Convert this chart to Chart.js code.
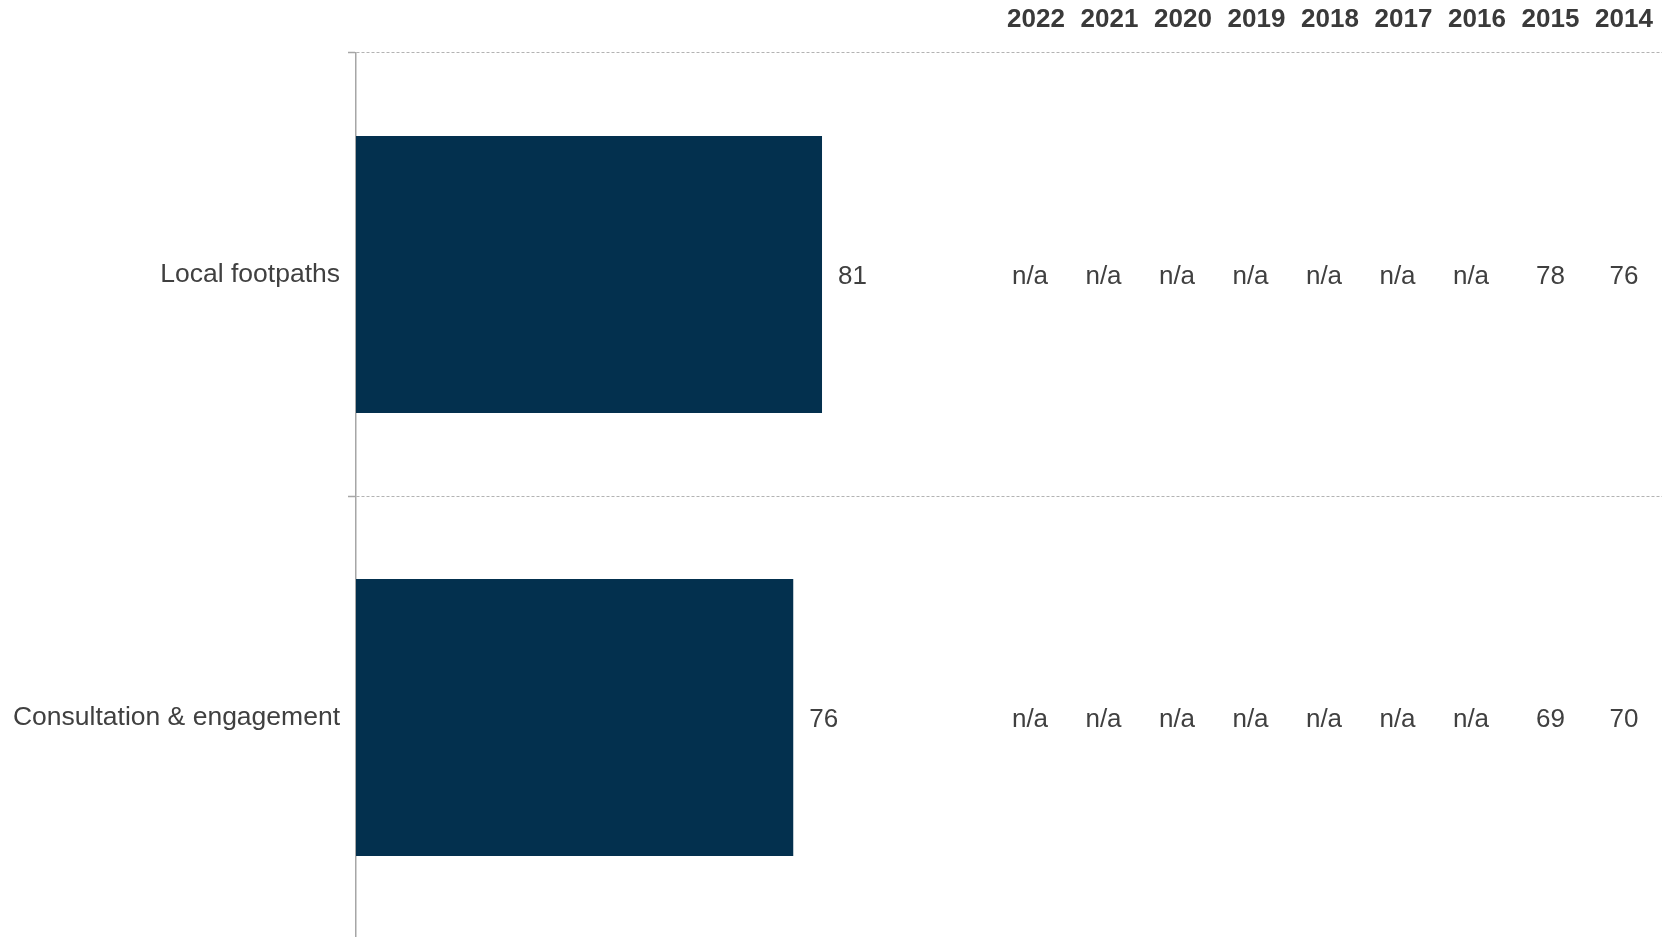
<!DOCTYPE html>
<html>
<head>
<meta charset="utf-8">
<title>Local footpaths</title>
<script src="https://cdn.jsdelivr.net/npm/chart.js@4.4.1/dist/chart.umd.min.js"></script>
<style>
  html, body { margin: 0; padding: 0; background: #fff; overflow: hidden; }
  #wrap { width: 1670px; height: 963px; }
</style>
</head>
<body>
<div id="wrap"><canvas id="barChart" width="1670" height="963"></canvas></div>
<script>
// current year scores
var categories = ["Local footpaths", "Consultation & engagement"];
var scores = [81, 76];

// previous years, newest first (null = n/a)
var years = ["2022", "2021", "2020", "2019", "2018", "2017", "2016", "2015", "2014"];
var footpathsHistory = [null, null, null, null, null, null, null, 78, 76];
var consultationHistory = [null, null, null, null, null, null, null, 69, 70];
var tableRows = [footpathsHistory, consultationHistory];

var textColor = '#404040';
var fontFamily = '"Liberation Sans", Arial, sans-serif';

// value labels beside the bars plus the year-by-year table on the right
var tablePlugin = {
    id: 'tablePlugin',
    afterDatasetsDraw: function (chart) {
        var ctx = chart.ctx;
        var meta = chart.getDatasetMeta(0);
        var colX = 1036, colStep = 73.5;
        ctx.save();
        ctx.fillStyle = textColor;
        ctx.textBaseline = 'middle';

        ctx.font = '26px ' + fontFamily;
        ctx.textAlign = 'left';
        meta.data.forEach(function (bar, i) {
            ctx.fillText(String(scores[i]), bar.x + 16, bar.y + 2);
        });

        ctx.textAlign = 'center';
        ctx.font = 'bold 26px ' + fontFamily;
        ctx.fillStyle = '#3a3a3a';
        years.forEach(function (y, j) {
            ctx.fillText(y, colX + j * colStep, 20);
        });

        ctx.font = '26px ' + fontFamily;
        ctx.fillStyle = textColor;
        meta.data.forEach(function (bar, i) {
            tableRows[i].forEach(function (v, j) {
                var label = v === null ? 'n/a' : String(v);
                var dx = v === null ? -6 : 0;
                ctx.fillText(label, colX + j * colStep + dx, bar.y + 2);
            });
        });
        ctx.restore();
    }
};

var ctx = document.getElementById("barChart").getContext('2d');
var myBarChart = new Chart(ctx, {
    type: 'bar',
    data: {
        labels: categories,
        datasets: [{
            data: scores,
            backgroundColor: '#03304e',
            borderWidth: 0,
            categoryPercentage: 1,
            barPercentage: 0.625
        }]
    },
    options: {
        indexAxis: 'y',
        responsive: false,
        animation: false,
        layout: { padding: { top: 53, right: 8, bottom: 0, left: 0 } },
        plugins: {
            legend: { display: false },
            tooltip: { enabled: false }
        },
        scales: {
            x: {
                display: false,
                min: 0,
                max: 227
            },
            y: {
                afterFit: function (scale) { scale.width = 356; },
                grid: {
                    color: '#b3b3b3',
                    lineWidth: 1,
                    tickLength: 8,
                    tickColor: '#a6a6a6',
                    tickWidth: 1.5
                },
                border: {
                    color: '#a6a6a6',
                    width: 1.5,
                    dash: [3, 2]
                },
                ticks: {
                    color: textColor,
                    padding: 8,
                    font: { family: fontFamily, size: 26.5 }
                }
            }
        }
    },
    plugins: [tablePlugin]
});
</script>
</body>
</html>
